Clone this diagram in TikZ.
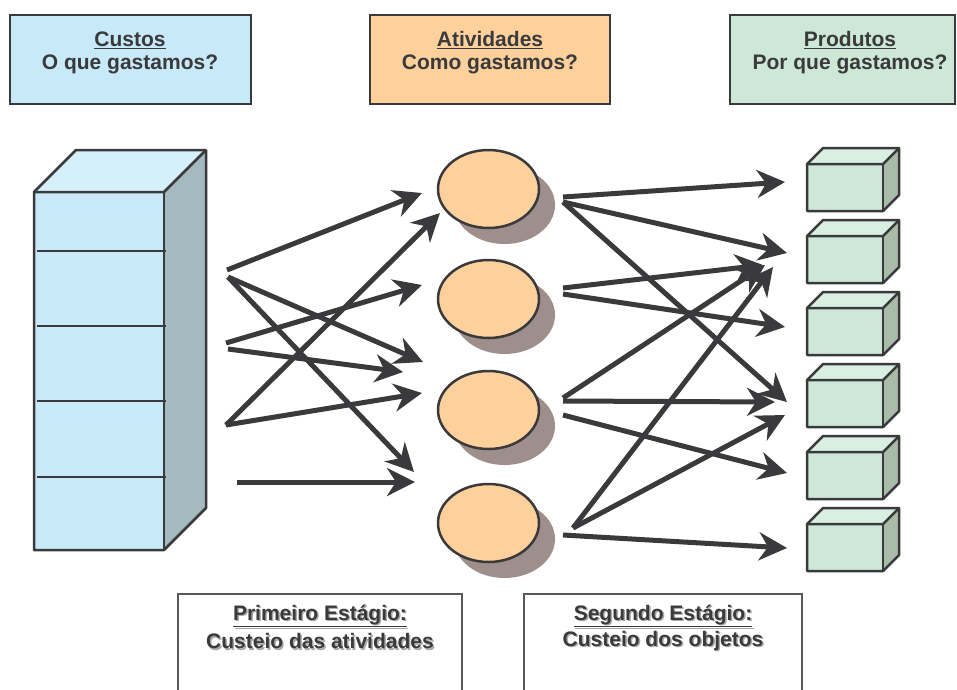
\documentclass[tikz,border=0pt]{standalone}
\usepackage{fontspec}
\setmainfont{Liberation Sans}
\usetikzlibrary{arrows.meta,shapes.geometric,shadows}

\definecolor{ink}{HTML}{3A3A3C}
\definecolor{costblue}{HTML}{C8E9F8}
\definecolor{costtop}{HTML}{D6F0FB}
\definecolor{costside}{HTML}{A5B9C0}
\definecolor{actorange}{HTML}{FDD09C}
\definecolor{actshadow}{HTML}{9E8F8C}
\definecolor{prodgreen}{HTML}{CDE8D6}
\definecolor{prodtop}{HTML}{D9EFE2}
\definecolor{prodside}{HTML}{A9BCA9}
\definecolor{textshade}{HTML}{A8A8A8}

\tikzset{
  hdrbox/.style={draw=ink, line width=2pt},
  hdrtext/.style={text=ink, font=\fontsize{21}{24}\selectfont\bfseries, inner sep=0pt},
  facet/.style={draw=ink, line width=2.5pt, line join=round},
  shelf/.style={draw=ink, line width=2.5pt},
  activity/.style={ellipse, draw=ink, line width=2.5pt, fill=actorange,
    minimum width=101pt, minimum height=78pt, inner sep=0pt,
    drop shadow={shadow xshift=16pt, shadow yshift=-16pt, fill=actshadow, opacity=1}},
  flow/.style={draw=ink, line width=5pt,
    -{Stealth[length=28pt, width=28pt, inset=9pt]}},
  stagebox/.style={draw=ink!85, line width=1.5pt},
}

% flat-shaded cuboid: front corner (#1,#2), size #3 x #4, depth #5, colours #6 #7 #8
\newcommand{\solidbox}[8]{%
  \fill[#7] (#1,#2) -- ++(#5,-#5) -- ++(#3,0) -- ++(-#5,#5) -- cycle;
  \fill[#8] (#1+#3,#2) -- ++(#5,-#5) -- ++(0,#4) -- ++(-#5,#5) -- cycle;
  \fill[#6] (#1,#2) rectangle ++(#3,#4);
  \draw[facet] (#1,#2) -- ++(#5,-#5) -- ++(#3,0) -- ++(0,#4) -- ++(-#5,#5)
    -- ++(-#3,0) -- cycle;
  \draw[facet] (#1,#2) -- ++(#3,0) -- ++(#5,-#5);
  \draw[facet] (#1+#3,#2) -- ++(0,#4);
}

\newcommand{\shadedtext}[3]{%
  \node[hdrtext, text=textshade] at ([shift={(1.5,1.5)}]#2) {#3};
  \node[hdrtext] (#1) at (#2) {#3};
}

\begin{document}
\begin{tikzpicture}[x=1pt, y=-1pt]
\useasboundingbox (0,0) rectangle (957,689);

% ---- header boxes ----
\filldraw[hdrbox, fill=costblue]  (10,15)  rectangle (251,104);
\filldraw[hdrbox, fill=actorange] (370,15) rectangle (610,104);
\filldraw[hdrbox, fill=prodgreen] (730,15) rectangle (955,104);

\node[hdrtext] (custos)  at (130,40) {\underline{Custos}};
\node[hdrtext] (custosq) at (130,64) {O que gastamos?};
\node[hdrtext] (ativ)    at (490,40) {\underline{Atividades}};
\node[hdrtext] (ativq)   at (490,64) {Como gastamos?};
\node[hdrtext] (prod)    at (850,40) {\underline{Produtos}};
\node[hdrtext] (prodq)   at (850,64) {Por que gastamos?};

% ---- cost cabinet ----
\solidbox{34}{192}{130}{358}{42}{costblue}{costtop}{costside}
\foreach \y in {251,326,401,477}
  \draw[shelf] (37,\y) -- (166,\y);

% ---- activities ----
\node[activity] (a1) at (488.5,189) {};
\node[activity] (a2) at (488.5,299) {};
\node[activity] (a3) at (488.5,410) {};
\node[activity] (a4) at (488.5,523) {};

% ---- products ----
\foreach \t in {164,236,308,380,452,524}
  \solidbox{807}{\t}{76}{47}{16}{prodgreen}{prodtop}{prodside};

% ---- first stage flows ----
\coordinate (s1)  at (227,270);
\coordinate (s1b) at (228,277);
\coordinate (s2)  at (226,343);
\coordinate (s2b) at (228,349);
\coordinate (s3)  at (226,425);
\coordinate (s4)  at (237,482);
\coordinate (e1)  at (422,193);
\coordinate (e2)  at (423,362);
\coordinate (e3)  at (414,472);
\coordinate (e4)  at (422,285);
\coordinate (e5)  at (403,372);
\coordinate (e6)  at (440,213);
\coordinate (e7)  at (422,393);
\coordinate (e8)  at (415,482);

\draw[flow] (s1)  -- (e1);
\draw[flow] (s1b) -- (e2);
\draw[flow] (s1b) -- (e3);
\draw[flow] (s2)  -- (e4);
\draw[flow] (s2b) -- (e5);
\draw[flow] (s3)  -- (e6);
\draw[flow] (s3)  -- (e7);
\draw[flow] (s4)  -- (e8);

% ---- second stage flows ----
\coordinate (t1)  at (563,197);
\coordinate (t1b) at (563,202);
\coordinate (t2)  at (563,288);
\coordinate (t2b) at (563,294);
\coordinate (t3)  at (563,398);
\coordinate (t3b) at (563,401);
\coordinate (t3c) at (563,415);
\coordinate (t4)  at (573,528);
\coordinate (t4b) at (563,535);
\coordinate (f1)  at (785,182);
\coordinate (f2)  at (787,253);
\coordinate (f3)  at (787,402);
\coordinate (f4)  at (763,265);
\coordinate (f5)  at (785,327);
\coordinate (f6)  at (765,265);
\coordinate (f7)  at (775,402);
\coordinate (f8)  at (787,473);
\coordinate (f9)  at (773,267);
\coordinate (f10) at (785,415);
\coordinate (f11) at (787,548);

\draw[flow] (t1)  -- (f1);
\draw[flow] (t1b) -- (f2);
\draw[flow] (t1b) -- (f3);
\draw[flow] (t2)  -- (f4);
\draw[flow] (t2b) -- (f5);
\draw[flow] (t3)  -- (f6);
\draw[flow] (t3b) -- (f7);
\draw[flow] (t3c) -- (f8);
\draw[flow] (t4)  -- (f9);
\draw[flow] (t4)  -- (f10);
\draw[flow] (t4b) -- (f11);

% ---- stage boxes ----
\draw[stagebox] (178,700) -- (178,594) -- (462,594) -- (462,700);
\draw[stagebox] (524,700) -- (524,594) -- (802,594) -- (802,700);

\shadedtext{st1}{320,616}{\underline{Primeiro Estágio:}}
\shadedtext{st1b}{320,641}{Custeio das atividades}
\shadedtext{st2}{663,616}{\underline{Segundo Estágio:}}
\shadedtext{st2b}{663,641}{Custeio dos objetos}
\end{tikzpicture}
\end{document}
